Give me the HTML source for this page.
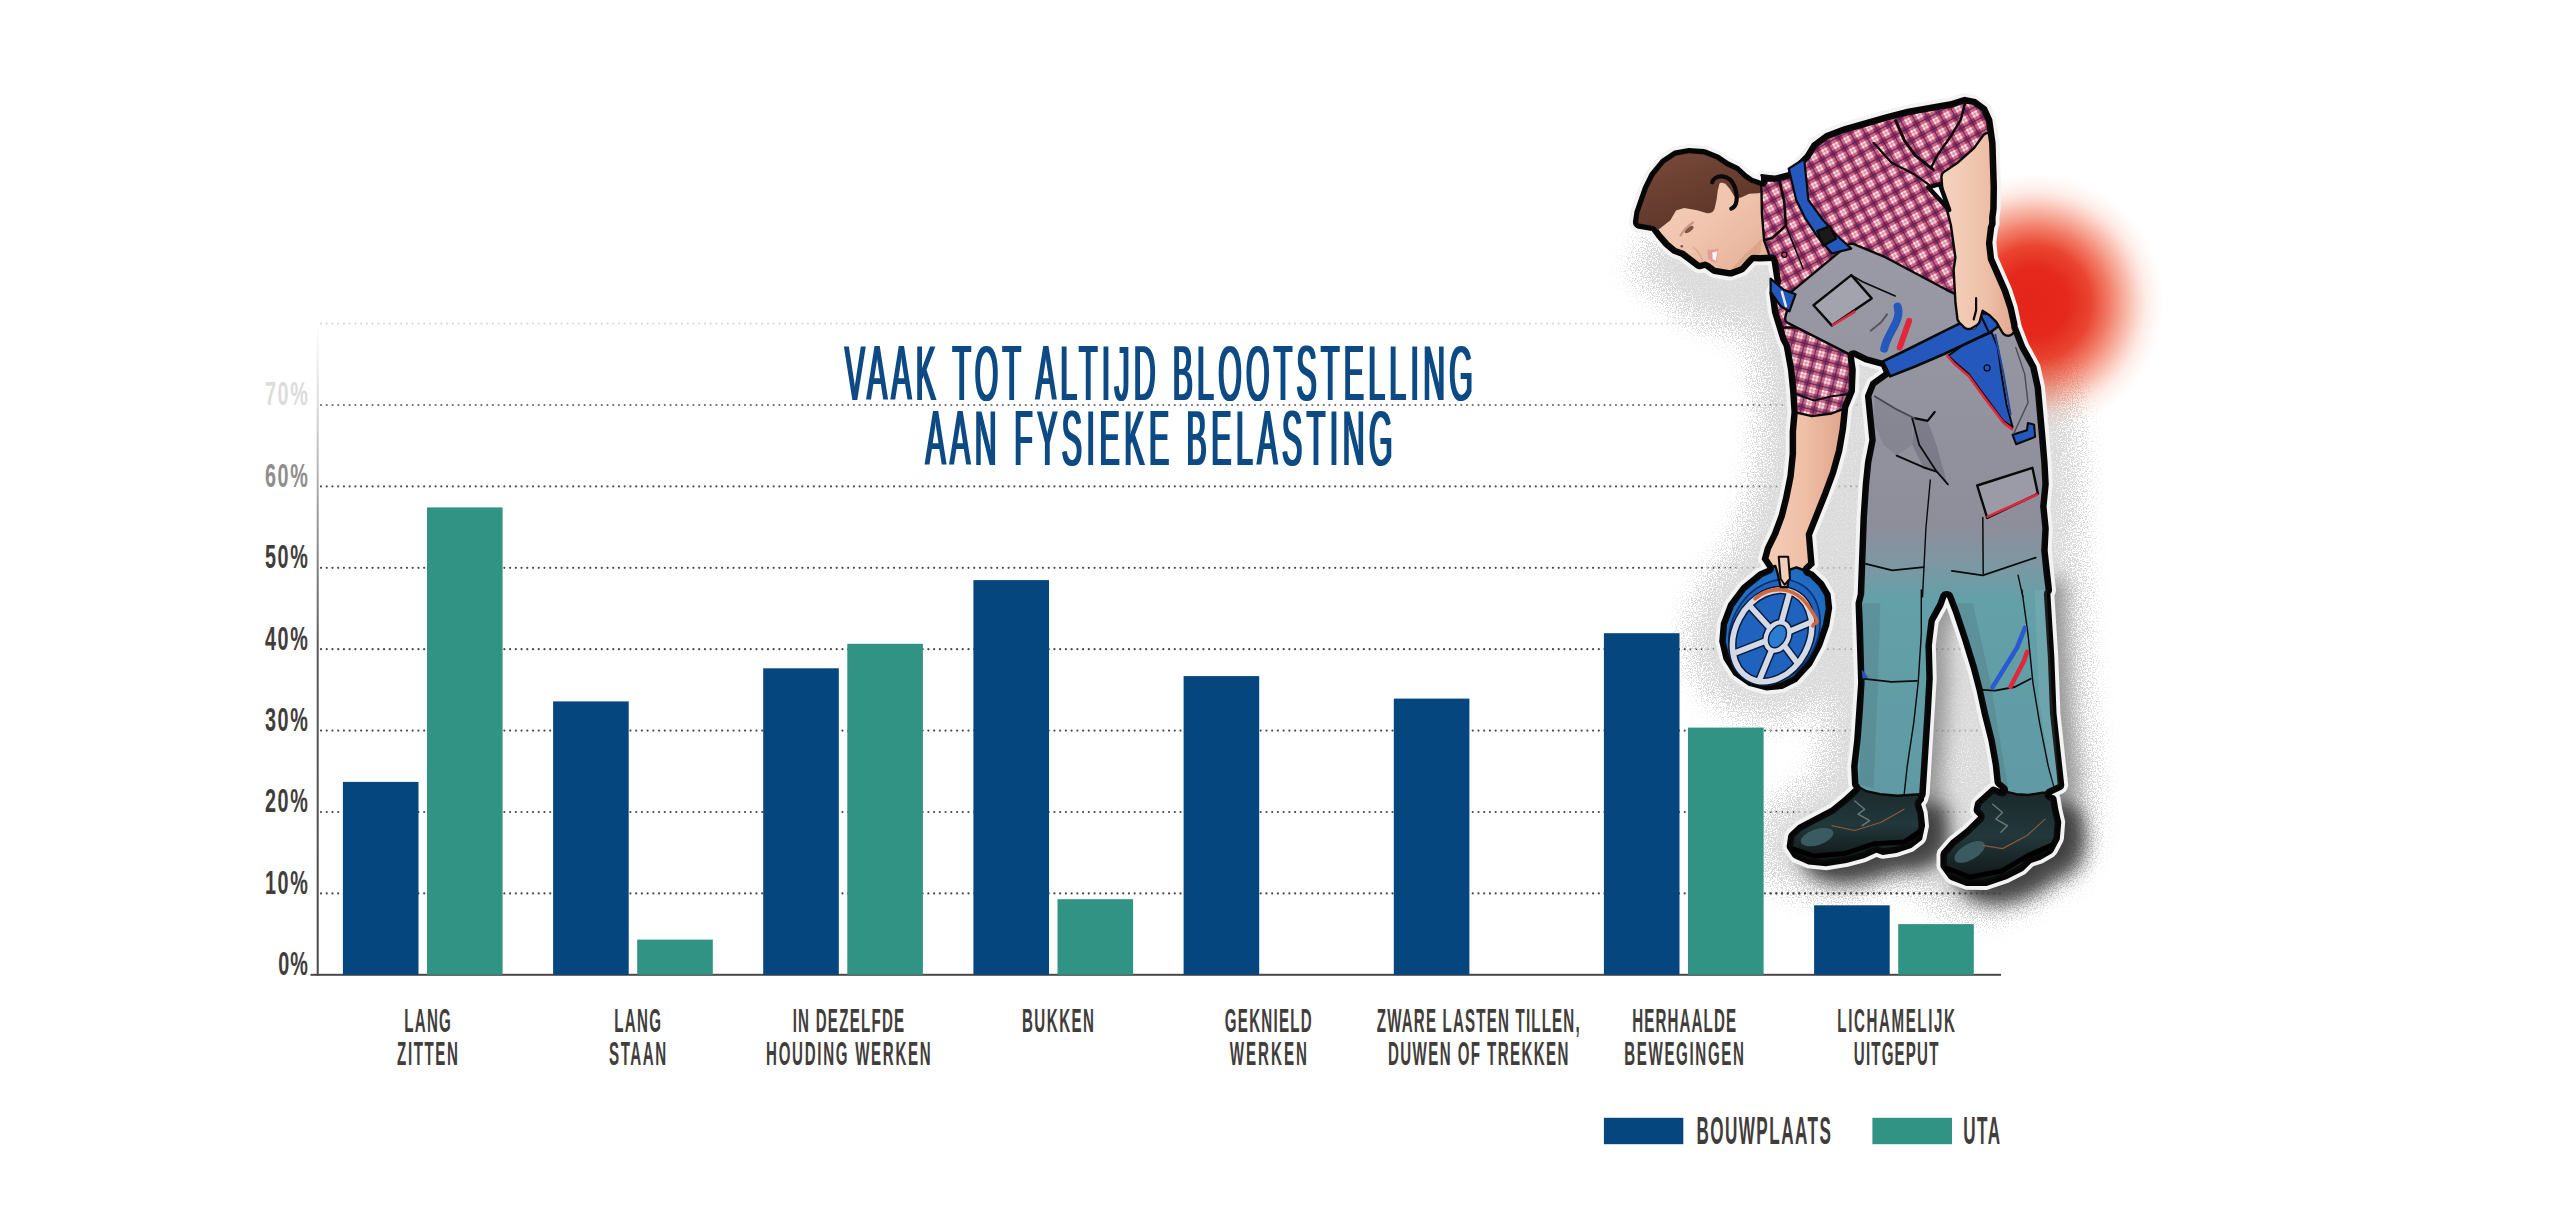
<!DOCTYPE html><html lang="nl"><head><meta charset="utf-8"><title>Vaak tot altijd blootstelling aan fysieke belasting</title>
<style>html,body{margin:0;padding:0;background:#fff}body{width:2560px;height:1224px;overflow:hidden}svg{display:block}text{font-family:"Liberation Sans",sans-serif}.lb{font-weight:700;fill:#413d3b}.ti{font-weight:400;fill:#0a4a83}</style></head><body>
<svg width="2560" height="1224" viewBox="0 0 2560 1224">
<defs>
<linearGradient id="axg" x1="0" y1="0" x2="0" y2="1"><stop offset="0" stop-color="#fff"/><stop offset="0.12" stop-color="#dcdcdc"/><stop offset="0.3" stop-color="#9a9998"/><stop offset="0.5" stop-color="#5a5857"/><stop offset="1" stop-color="#4a4746"/></linearGradient>
<filter id="dx" x="-5%" y="-5%" width="110%" height="110%"><feMorphology operator="dilate" radius="1 0"/></filter>
<linearGradient id="skinf" x1="0" y1="0" x2="1" y2="1"><stop offset="0" stop-color="#f7d6c4"/><stop offset="0.55" stop-color="#f0c4ad"/><stop offset="1" stop-color="#e4ad94"/></linearGradient>
<linearGradient id="hairf" x1="0" y1="0" x2="0.6" y2="1"><stop offset="0" stop-color="#7a4a3a"/><stop offset="1" stop-color="#5a3427"/></linearGradient>
<linearGradient id="skin2" x1="0" y1="0" x2="1" y2="0"><stop offset="0" stop-color="#f3cdb6"/><stop offset="0.5" stop-color="#efbfa6"/><stop offset="1" stop-color="#dfa58c"/></linearGradient>
<linearGradient id="skin3" x1="0" y1="0" x2="1" y2="0"><stop offset="0" stop-color="#f4d3bf"/><stop offset="0.6" stop-color="#efc0a8"/><stop offset="1" stop-color="#e2a890"/></linearGradient>
<linearGradient id="pantsf" gradientUnits="userSpaceOnUse" x1="0" y1="250" x2="0" y2="800"><stop offset="0" stop-color="#9a9aa6"/><stop offset="0.5" stop-color="#8e8e9b"/><stop offset="0.57" stop-color="#7d97a2"/><stop offset="0.63" stop-color="#64a0a8"/><stop offset="1" stop-color="#5f9aa4"/></linearGradient>
<linearGradient id="bootf" x1="0" y1="0" x2="0" y2="1"><stop offset="0" stop-color="#1b2a2c"/><stop offset="0.5" stop-color="#22383b"/><stop offset="1" stop-color="#101616"/></linearGradient>
<radialGradient id="helmf" cx="0.5" cy="0.5" r="0.6"><stop offset="0" stop-color="#2a7fd0"/><stop offset="1" stop-color="#1d66bd"/></radialGradient>
<pattern id="plaid" width="12.5" height="12.5" patternUnits="userSpaceOnUse" patternTransform="rotate(-28)">
<rect width="12.5" height="12.5" fill="#f7ecf1"/>
<rect x="5.6" y="0" width="6.9" height="12.5" fill="#c0234f" opacity="0.62"/>
<rect x="0" y="5.6" width="12.5" height="6.9" fill="#c0234f" opacity="0.62"/>
<rect x="5.6" y="5.6" width="6.9" height="6.9" fill="#a8143f" opacity="0.55"/>
<rect x="8.4" y="0" width="1.3" height="12.5" fill="#2b2d66" opacity="0.9"/>
<rect x="0" y="8.4" width="12.5" height="1.3" fill="#2b2d66" opacity="0.9"/>
<rect x="2.3" y="0" width="1" height="12.5" fill="#c0234f" opacity="0.5"/>
<rect x="0" y="2.3" width="12.5" height="1" fill="#c0234f" opacity="0.5"/>
</pattern>
<pattern id="plaid2" width="12.5" height="12.5" patternUnits="userSpaceOnUse" patternTransform="rotate(14)">
<rect width="12.5" height="12.5" fill="#f7ecf1"/>
<rect x="5.6" y="0" width="6.9" height="12.5" fill="#b82a52" opacity="0.62"/>
<rect x="0" y="5.6" width="12.5" height="6.9" fill="#b82a52" opacity="0.62"/>
<rect x="5.6" y="5.6" width="6.9" height="6.9" fill="#a01a42" opacity="0.55"/>
<rect x="8.4" y="0" width="1.3" height="12.5" fill="#2b2d66" opacity="0.9"/>
<rect x="0" y="8.4" width="12.5" height="1.3" fill="#2b2d66" opacity="0.9"/>
<rect x="2.3" y="0" width="1" height="12.5" fill="#b82a52" opacity="0.5"/>
<rect x="0" y="2.3" width="12.5" height="1" fill="#b82a52" opacity="0.5"/>
</pattern>
<radialGradient id="glow" cx="0.5" cy="0.5" r="0.5"><stop offset="0" stop-color="#e4251a"/><stop offset="0.26" stop-color="#e5281b"/><stop offset="0.44" stop-color="#e8351f" stop-opacity="0.92"/><stop offset="0.58" stop-color="#ec4a2e" stop-opacity="0.72"/><stop offset="0.72" stop-color="#f0603e" stop-opacity="0.44"/><stop offset="0.86" stop-color="#f58a68" stop-opacity="0.16"/><stop offset="1" stop-color="#f9b49c" stop-opacity="0"/></radialGradient>
<filter id="blur9" x="-30%" y="-30%" width="160%" height="160%"><feGaussianBlur stdDeviation="9"/></filter>
<filter id="speck" x="-20%" y="-20%" width="140%" height="140%" color-interpolation-filters="sRGB"><feGaussianBlur stdDeviation="15" result="b"/><feTurbulence type="fractalNoise" baseFrequency="0.8" numOctaves="1" seed="11" result="n"/><feColorMatrix in="n" type="matrix" values="0 0 0 0 0  0 0 0 0 0  0 0 0 0 0  0 0 0 5 -2" result="na"/><feComposite in="b" in2="na" operator="arithmetic" k1="0" k2="1.25" k3="-1" k4="0" result="d"/><feComponentTransfer in="d" result="d2"><feFuncA type="linear" slope="3" intercept="0"/></feComponentTransfer><feFlood flood-color="#d4d4d4" result="f"/><feComposite in="f" in2="d2" operator="in"/></filter>
</defs>

<rect width="2560" height="1224" fill="#fff"/>
<g id="figback">
</g>
<g stroke-width="2.2" stroke-linecap="round" stroke-dasharray="0.01 5.72" fill="none">
<line x1="321" x2="2002" y1="323.6" y2="323.6" stroke="#d9d9d9"/>
<line x1="321" x2="2002" y1="405.0" y2="405.0" stroke="#6f6d6c"/>
<line x1="321" x2="2002" y1="486.4" y2="486.4" stroke="#555352"/>
<line x1="321" x2="2002" y1="567.8" y2="567.8" stroke="#4a4847"/>
<line x1="321" x2="2002" y1="649.2" y2="649.2" stroke="#4a4847"/>
<line x1="321" x2="2002" y1="730.6" y2="730.6" stroke="#4a4847"/>
<line x1="321" x2="2002" y1="812.0" y2="812.0" stroke="#4a4847"/>
<line x1="321" x2="2002" y1="893.4" y2="893.4" stroke="#4a4847"/>
</g>
<g id="figback2">
<g filter="url(#speck)" opacity="0.82"><path d="M1732.3 555.0 L1718.7 566.8 L1703.6 586.8 L1691.3 619.4 L1689.6 644.2 L1694.6 666.3 L1697.9 674.6 L1709.6 692.6 L1716.0 699.4 L1734.8 712.2 L1765.0 720.2 L1786.3 718.4 L1794.8 715.9 L1814.2 705.8 L1827.8 692.1 L1821.5 764.0 L1821.9 776.9 L1814.6 782.8 L1778.5 802.7 L1766.0 814.9 L1760.0 826.2 L1757.1 842.3 L1757.9 854.6 L1761.8 863.9 L1773.4 879.7 L1781.2 885.0 L1800.7 893.2 L1826.0 896.1 L1852.8 892.1 L1879.0 884.3 L1901.1 882.4 L1913.3 878.8 L1926.1 897.7 L1935.9 905.7 L1959.5 914.9 L1986.1 915.8 L1995.6 914.4 L2020.1 905.8 L2037.9 896.6 L2047.2 888.9 L2066.7 879.0 L2075.0 872.1 L2085.7 854.0 L2088.8 845.7 L2090.9 820.0 L2087.8 805.0 L2092.0 796.6 L2093.9 786.8 L2086.2 711.0 L2080.5 599.6 L2081.7 587.8 L2077.4 549.7 L2078.5 528.8 L2076.4 506.4 L2078.5 484.1 L2077.3 459.9 L2070.4 382.4 L2065.2 358.5 L2052.0 332.7 L2043.5 311.1 L2036.2 300.7 L1998.0 271.5 L1985.1 268.1 L1973.4 269.4 L1898.1 230.1 L1856.1 213.9 L1842.9 214.6 L1832.9 218.8 L1773.8 267.4 L1764.1 280.3 L1756.6 307.6 L1752.1 314.3 L1749.3 322.6 L1749.1 331.3 L1754.9 354.3 L1760.5 394.3 L1761.6 411.7 L1759.9 452.0 L1758.0 471.1 L1750.2 506.2 L1736.7 537.9ZM1956.3 778.7 L1958.6 744.4 L1963.6 772.0Z" fill="#000"/><path d="M1635.2 276.4 L1638.9 282.0 L1653.9 284.6 L1666.1 299.9 L1674.7 307.2 L1682.7 310.1 L1698.7 322.3 L1706.9 321.8 L1716.0 327.7 L1734.0 330.2 L1746.2 325.4 L1755.7 314.9 L1773.4 314.7 L1776.9 335.7 L1771.6 346.7 L1774.3 366.7 L1789.1 411.1 L1851.7 410.9 L1851.7 393.9 L1842.9 344.6 L1851.6 312.0 L1900.0 339.9 L1900.0 236.0 L1647.7 236.0 L1636.7 265.3Z" fill="#000"/></g>
<path d="M1874.0 598.0 L1871.8 607.5 L1874.4 686.6 L1870.5 743.5 L1867.4 770.3 L1868.3 788.8 L1870.2 792.1 L1847.1 812.0 L1814.3 829.3 L1805.6 837.4 L1802.9 850.6 L1809.2 861.1 L1824.4 868.2 L1842.0 870.0 L1862.5 866.7 L1880.2 862.1 L1892.4 856.5 L1898.8 858.6 L1912.0 856.8 L1926.8 852.0 L1937.8 843.3 L1940.8 829.6 L1939.4 816.4 L1936.8 808.0 L1939.6 804.3 L1941.4 798.3 L1948.5 682.5 L1947.6 649.4 L1950.6 625.3 L1959.1 609.7 L1962.0 601.3 L1963.3 601.3 L1969.6 617.7 L1987.1 672.6 L2004.7 745.0 L2011.0 787.3 L2017.9 794.2 L2010.5 790.9 L2007.6 791.3 L1992.0 805.4 L1990.0 814.8 L1994.6 820.6 L1982.0 832.9 L1967.1 844.9 L1957.5 855.8 L1957.0 871.4 L1966.9 883.7 L1982.4 889.7 L2002.6 889.7 L2022.5 883.1 L2038.9 874.6 L2047.1 866.6 L2056.7 863.5 L2067.8 856.9 L2075.5 843.2 L2077.0 826.2 L2072.2 801.9 L2070.4 799.7 L2066.6 798.4 L2077.8 793.3 L2080.0 789.2 L2072.2 717.2 L2066.1 598.0 L2067.8 594.1 L2065.9 579.0 L1874.5 579.0Z" fill="#555" opacity="0.5" filter="url(#blur9)"/>
<path d="M1991.5 830.5 L1967.5 851.4 L1957.6 862.7 L1955.8 867.6 L1956.3 883.0 L1965.1 895.5 L1968.5 898.1 L1984.9 904.5 L2007.4 904.7 L2028.7 897.5 L2045.9 888.7 L2053.8 881.0 L2063.0 877.9 L2074.9 870.9 L2084.4 854.3 L2086.0 835.4 L2080.9 810.5 L2076.9 805.4 L2065.9 801.9 L2048.3 804.0 L2037.1 803.3 L2025.6 800.4 L2015.9 796.1 L2010.0 796.5 L1991.3 813.5 L1988.9 824.2ZM1881.3 796.7 L1876.9 795.8 L1872.2 797.3 L1848.4 817.8 L1815.8 835.0 L1806.0 843.9 L1803.7 848.1 L1801.9 861.4 L1810.4 875.3 L1827.1 883.1 L1846.6 885.0 L1868.2 881.5 L1886.0 876.7 L1896.6 871.9 L1903.2 873.6 L1917.8 871.5 L1933.1 866.4 L1944.9 857.4 L1947.0 853.7 L1949.8 839.9 L1948.4 825.6 L1946.4 819.1 L1948.5 815.7 L1948.9 811.5 L1946.2 805.8 L1940.0 803.2 L1917.6 804.8 L1900.9 803.3 L1888.0 800.4Z" fill="#2a2a2a" opacity="0.8" filter="url(#blur9)"/>
<line x1="1770.55" x2="2002" y1="893.4" y2="893.4" stroke="#4a4847" stroke-width="2.2" stroke-linecap="round" stroke-dasharray="0.01 5.72"/>
<ellipse cx="2034" cy="303" rx="130" ry="130" fill="url(#glow)"/>
</g>
<rect x="316.7" y="323" width="2" height="652.8" fill="url(#axg)"/>
<rect x="310.5" y="973.8" width="1690.5" height="2" fill="#4a4746"/>
<rect x="342.9" y="781.9" width="75.6" height="192.9" fill="#04467d"/>
<rect x="427.0" y="507.4" width="75.6" height="467.4" fill="#309384"/>
<rect x="553.1" y="701.4" width="75.6" height="273.4" fill="#04467d"/>
<rect x="637.2" y="939.6" width="75.6" height="35.2" fill="#309384"/>
<rect x="763.2" y="668.3" width="75.6" height="306.5" fill="#04467d"/>
<rect x="847.3" y="643.8" width="75.6" height="331.0" fill="#309384"/>
<rect x="973.4" y="580.1" width="75.6" height="394.7" fill="#04467d"/>
<rect x="1057.5" y="899.2" width="75.6" height="75.6" fill="#309384"/>
<rect x="1183.6" y="676.1" width="75.6" height="298.7" fill="#04467d"/>
<rect x="1393.8" y="698.6" width="75.6" height="276.2" fill="#04467d"/>
<rect x="1603.9" y="633.2" width="75.6" height="341.6" fill="#04467d"/>
<rect x="1688.0" y="727.6" width="75.6" height="247.2" fill="#309384"/>
<rect x="1814.1" y="905.3" width="75.6" height="69.5" fill="#04467d"/>
<rect x="1898.2" y="924.1" width="75.6" height="50.7" fill="#309384"/>
<text class="lb" style="fill:#dcdcdc" transform="translate(264.90,405.30) scale(0.600,1)" font-size="33.0" textLength="71.7" lengthAdjust="spacing">70%</text>
<text class="lb" style="fill:#8f8e8d" transform="translate(264.90,486.70) scale(0.600,1)" font-size="33.0" textLength="71.7" lengthAdjust="spacing">60%</text>
<text class="lb" style="fill:#413d3b" transform="translate(264.90,568.10) scale(0.600,1)" font-size="33.0" textLength="71.7" lengthAdjust="spacing">50%</text>
<text class="lb" style="fill:#413d3b" transform="translate(264.90,649.50) scale(0.600,1)" font-size="33.0" textLength="71.7" lengthAdjust="spacing">40%</text>
<text class="lb" style="fill:#413d3b" transform="translate(264.90,730.90) scale(0.600,1)" font-size="33.0" textLength="71.7" lengthAdjust="spacing">30%</text>
<text class="lb" style="fill:#413d3b" transform="translate(264.90,812.30) scale(0.600,1)" font-size="33.0" textLength="71.7" lengthAdjust="spacing">20%</text>
<text class="lb" style="fill:#413d3b" transform="translate(264.90,893.70) scale(0.600,1)" font-size="33.0" textLength="71.7" lengthAdjust="spacing">10%</text>
<text class="lb" style="fill:#413d3b" transform="translate(278.30,975.10) scale(0.600,1)" font-size="33.0" textLength="49.3" lengthAdjust="spacing">0%</text>
<text class="lb"  transform="translate(404.20,1031.90) scale(0.450,1)" font-size="33.6" textLength="103.6" lengthAdjust="spacing">LANG</text>
<text class="lb"  transform="translate(397.10,1064.90) scale(0.450,1)" font-size="33.6" textLength="135.1" lengthAdjust="spacing">ZITTEN</text>
<text class="lb"  transform="translate(614.30,1031.90) scale(0.450,1)" font-size="33.6" textLength="103.6" lengthAdjust="spacing">LANG</text>
<text class="lb"  transform="translate(609.05,1064.90) scale(0.450,1)" font-size="33.6" textLength="126.9" lengthAdjust="spacing">STAAN</text>
<text class="lb"  transform="translate(792.65,1031.90) scale(0.450,1)" font-size="33.6" textLength="247.8" lengthAdjust="spacing">IN DEZELFDE</text>
<text class="lb"  transform="translate(766.05,1064.90) scale(0.450,1)" font-size="33.6" textLength="366.0" lengthAdjust="spacing">HOUDING WERKEN</text>
<text class="lb"  transform="translate(1021.95,1031.90) scale(0.450,1)" font-size="33.6" textLength="160.2" lengthAdjust="spacing">BUKKEN</text>
<text class="lb"  transform="translate(1224.80,1031.90) scale(0.450,1)" font-size="33.6" textLength="193.3" lengthAdjust="spacing">GEKNIELD</text>
<text class="lb"  transform="translate(1229.70,1064.90) scale(0.450,1)" font-size="33.6" textLength="171.6" lengthAdjust="spacing">WERKEN</text>
<text class="lb"  transform="translate(1376.75,1031.90) scale(0.450,1)" font-size="33.6" textLength="450.9" lengthAdjust="spacing">ZWARE LASTEN TILLEN,</text>
<text class="lb"  transform="translate(1388.00,1064.90) scale(0.450,1)" font-size="33.6" textLength="400.9" lengthAdjust="spacing">DUWEN OF TREKKEN</text>
<text class="lb"  transform="translate(1632.20,1031.90) scale(0.450,1)" font-size="33.6" textLength="230.7" lengthAdjust="spacing">HERHAALDE</text>
<text class="lb"  transform="translate(1624.20,1064.90) scale(0.450,1)" font-size="33.6" textLength="266.2" lengthAdjust="spacing">BEWEGINGEN</text>
<text class="lb"  transform="translate(1837.30,1031.90) scale(0.450,1)" font-size="33.6" textLength="261.3" lengthAdjust="spacing">LICHAMELIJK</text>
<text class="lb"  transform="translate(1853.80,1064.90) scale(0.450,1)" font-size="33.6" textLength="188.0" lengthAdjust="spacing">UITGEPUT</text>
<g filter="url(#dx)"><text class="ti"  transform="translate(844.70,399.60) scale(0.390,1)" font-size="77.5" textLength="1610.5" lengthAdjust="spacing">VAAK TOT ALTIJD BLOOTSTELLING</text></g>
<g filter="url(#dx)"><text class="ti"  transform="translate(925.40,464.70) scale(0.390,1)" font-size="77.5" textLength="1197.9" lengthAdjust="spacing">AAN FYSIEKE BELASTING</text></g>
<rect x="1603.9" y="1117.8" width="79.4" height="26.4" fill="#04467d"/>
<rect x="1872.4" y="1117.8" width="79.6" height="26.4" fill="#309384"/>
<text class="lb"  transform="translate(1696.40,1144.30) scale(0.450,1)" font-size="38.0" textLength="298.7" lengthAdjust="spacing">BOUWPLAATS</text>
<text class="lb"  transform="translate(1963.20,1144.30) scale(0.450,1)" font-size="38.0" textLength="82.2" lengthAdjust="spacing">UTA</text>
<g id="fig">
<path d="M1629.0 221.6 L1629.2 224.4 L1630.0 226.7 L1631.5 229.0 L1633.2 230.7 L1637.2 232.5 L1649.5 234.5 L1653.5 240.0 L1661.1 248.8 L1669.6 256.1 L1672.3 257.7 L1678.8 259.9 L1693.2 271.0 L1696.5 272.8 L1700.0 273.3 L1704.3 272.4 L1709.9 276.5 L1712.7 277.7 L1728.6 280.5 L1731.7 280.5 L1746.0 275.2 L1748.2 273.4 L1755.4 265.2 L1768.1 265.1 L1770.6 281.0 L1765.8 291.0 L1765.4 292.7 L1768.1 313.2 L1776.7 341.5 L1780.1 348.6 L1784.0 370.3 L1786.2 392.1 L1787.5 412.0 L1785.7 431.3 L1785.7 453.3 L1783.6 474.9 L1779.2 496.6 L1774.9 513.9 L1768.4 531.1 L1761.4 545.5 L1757.8 558.4 L1758.2 561.3 L1761.4 566.3 L1756.4 568.6 L1738.7 583.1 L1724.9 601.3 L1717.0 622.1 L1715.3 641.4 L1719.9 661.1 L1730.4 677.4 L1732.2 679.2 L1747.2 689.5 L1764.4 694.2 L1766.8 694.4 L1783.7 692.6 L1798.6 685.1 L1800.6 683.7 L1815.0 667.8 L1825.7 647.9 L1833.0 626.7 L1836.1 607.5 L1834.7 594.0 L1834.0 591.7 L1826.6 579.3 L1816.2 569.1 L1818.1 567.0 L1818.6 564.8 L1816.1 535.8 L1831.6 497.1 L1839.8 474.9 L1846.1 452.3 L1849.9 429.9 L1852.1 408.8 L1858.7 392.5 L1859.7 369.7 L1858.9 363.7 L1864.0 366.1 L1878.4 370.1 L1878.8 370.9 L1869.2 377.7 L1867.3 379.6 L1861.7 392.7 L1861.1 395.5 L1865.3 439.8 L1861.1 461.2 L1858.9 483.5 L1856.6 517.1 L1853.8 593.4 L1851.6 603.0 L1854.2 682.5 L1850.3 739.1 L1847.2 766.0 L1848.1 784.6 L1848.7 787.5 L1841.0 794.6 L1828.8 804.5 L1796.2 821.6 L1786.3 830.8 L1784.5 834.3 L1782.7 846.9 L1783.7 850.3 L1789.5 859.0 L1792.6 861.9 L1807.3 868.3 L1826.5 870.2 L1848.0 866.7 L1865.8 861.9 L1876.6 857.0 L1880.8 858.5 L1883.2 858.8 L1897.5 856.8 L1913.2 851.4 L1923.4 843.8 L1925.3 841.5 L1926.4 838.9 L1929.0 826.3 L1927.6 811.8 L1925.5 804.9 L1927.6 801.8 L1929.6 794.5 L1936.7 678.7 L1935.8 645.6 L1938.6 622.7 L1946.8 607.7 L1958.3 641.3 L1967.1 669.7 L1972.7 691.4 L1978.0 715.7 L1984.6 741.9 L1988.9 765.5 L1990.6 783.1 L1987.7 784.9 L1973.8 797.7 L1972.0 799.9 L1971.2 802.2 L1969.7 810.6 L1970.6 813.8 L1972.6 816.5 L1963.2 825.8 L1948.3 837.7 L1937.7 850.0 L1936.5 854.1 L1936.5 866.0 L1937.2 869.1 L1946.0 881.3 L1949.2 883.6 L1965.9 889.8 L1986.8 889.9 L2008.4 882.8 L2025.4 874.0 L2033.3 866.3 L2042.6 863.2 L2054.1 856.5 L2056.8 853.4 L2063.0 841.7 L2063.9 838.7 L2065.2 821.5 L2062.1 808.4 L2060.4 797.5 L2059.4 795.1 L2063.6 793.1 L2066.0 791.1 L2067.5 788.5 L2068.2 785.0 L2060.4 712.9 L2058.2 655.7 L2054.4 595.4 L2055.6 592.8 L2056.0 589.8 L2051.6 550.3 L2052.7 528.4 L2050.5 506.4 L2052.7 484.1 L2051.5 461.6 L2049.3 435.1 L2044.9 386.3 L2040.1 364.8 L2028.6 343.7 L2021.6 325.8 L2017.5 306.0 L2011.7 288.2 L1997.9 256.8 L1996.3 242.8 L1998.1 228.8 L1999.5 224.6 L1999.5 217.9 L2000.6 209.1 L2000.9 186.5 L1999.5 142.5 L1996.0 118.1 L1989.9 104.8 L1977.6 95.5 L1963.8 92.9 L1950.1 97.3 L1906.1 105.1 L1883.9 110.6 L1841.8 122.8 L1823.4 129.7 L1809.4 140.2 L1802.1 151.9 L1785.7 168.7 L1774.0 171.7 L1760.8 170.9 L1758.2 172.4 L1757.1 175.2 L1754.7 174.4 L1749.4 170.8 L1740.6 162.8 L1730.8 158.2 L1720.5 151.2 L1706.6 145.7 L1688.4 144.0 L1673.1 146.9 L1670.5 148.2 L1658.4 156.4 L1646.5 171.1 L1639.5 185.2 L1630.8 210.0Z" fill="#f3f3f3"/>
<path d="M1632.9 221.8 L1633.1 223.8 L1633.8 225.6 L1635.1 227.1 L1636.7 228.3 L1638.4 228.8 L1651.7 230.9 L1656.5 237.6 L1663.9 246.2 L1672.6 253.5 L1680.6 256.4 L1696.6 268.6 L1698.4 269.2 L1700.4 269.3 L1704.9 268.1 L1712.1 273.3 L1713.9 274.0 L1729.2 276.6 L1732.1 276.5 L1742.6 272.6 L1744.3 271.6 L1753.9 261.2 L1760.1 261.5 L1771.2 261.0 L1771.6 262.0 L1774.6 281.6 L1769.3 292.7 L1772.0 312.7 L1780.4 340.2 L1783.5 346.2 L1783.9 347.8 L1787.9 369.8 L1790.1 391.8 L1791.4 412.0 L1789.6 431.4 L1789.6 453.5 L1787.4 475.5 L1783.0 497.5 L1778.6 515.1 L1772.0 532.7 L1765.0 547.0 L1761.6 559.3 L1767.3 568.1 L1758.7 571.8 L1741.6 585.7 L1728.2 603.5 L1720.8 622.9 L1719.2 641.5 L1723.5 659.5 L1733.6 675.2 L1748.5 685.8 L1766.4 690.5 L1782.4 688.9 L1796.9 681.7 L1811.8 665.6 L1822.0 646.4 L1829.2 625.9 L1832.2 607.9 L1830.6 593.8 L1823.8 582.1 L1813.6 571.9 L1809.4 570.0 L1814.7 565.0 L1812.1 535.2 L1827.9 495.7 L1836.1 473.6 L1842.3 451.5 L1846.1 429.3 L1848.3 407.8 L1854.9 391.8 L1855.8 369.7 L1854.0 356.9 L1864.7 362.2 L1881.3 366.8 L1883.6 372.2 L1870.5 381.8 L1864.9 395.7 L1869.3 440.0 L1865.0 461.8 L1862.7 483.9 L1860.5 517.3 L1857.7 593.9 L1855.5 603.0 L1858.1 682.6 L1854.2 739.5 L1851.1 766.3 L1852.0 784.8 L1852.7 786.8 L1853.8 788.1 L1843.6 797.5 L1831.0 807.8 L1798.2 825.0 L1789.4 833.2 L1788.2 835.5 L1786.6 846.7 L1787.3 848.7 L1792.7 856.9 L1794.7 858.6 L1808.3 864.5 L1826.0 866.3 L1846.6 863.0 L1864.2 858.3 L1876.4 852.8 L1882.8 854.9 L1896.5 853.0 L1911.4 848.0 L1920.8 840.8 L1922.1 839.4 L1925.1 825.6 L1923.7 812.4 L1921.1 804.0 L1923.9 800.4 L1924.2 797.7 L1925.2 796.4 L1925.7 794.3 L1931.0 711.7 L1932.8 678.5 L1931.9 645.4 L1934.8 621.4 L1943.4 605.9 L1946.3 597.6 L1947.1 597.6 L1953.3 613.8 L1962.1 640.2 L1970.8 668.7 L1976.5 690.5 L1981.8 714.8 L1988.4 741.1 L1992.7 765.0 L1994.6 782.9 L1996.0 785.6 L2000.0 789.0 L1994.6 786.7 L1993.2 786.5 L1991.5 787.0 L1975.8 801.2 L1975.0 803.0 L1973.7 809.1 L1973.7 810.9 L1974.6 813.0 L1978.2 816.6 L1965.8 828.7 L1950.9 840.6 L1941.3 851.6 L1940.4 854.3 L1940.4 865.8 L1940.8 867.5 L1948.8 878.5 L1950.8 880.0 L1966.4 886.0 L1986.6 886.0 L2006.6 879.3 L2023.1 870.9 L2031.3 862.9 L2040.9 859.7 L2052.0 853.2 L2053.4 851.6 L2059.8 839.3 L2061.3 822.3 L2058.3 809.1 L2056.4 797.8 L2054.6 795.5 L2051.4 794.4 L2062.0 789.6 L2063.7 787.7 L2064.3 785.2 L2056.5 713.1 L2054.3 655.9 L2050.4 594.1 L2051.7 592.1 L2052.1 590.1 L2047.7 550.4 L2048.8 528.4 L2046.6 506.4 L2048.8 484.1 L2047.6 461.9 L2045.4 435.4 L2041.0 386.9 L2036.4 365.9 L2025.1 345.4 L2017.6 326.3 L2017.5 323.9 L2013.8 307.0 L2008.0 289.4 L1994.1 257.9 L1992.4 242.8 L1994.3 227.8 L1995.6 224.4 L1995.6 217.6 L1996.7 209.0 L1997.0 186.5 L1995.6 142.8 L1992.3 119.2 L1986.7 106.9 L1975.8 99.0 L1964.4 96.7 L1951.1 101.1 L1907.0 108.8 L1884.9 114.4 L1843.0 126.5 L1825.3 133.2 L1811.9 143.2 L1805.2 154.3 L1787.7 172.2 L1774.3 175.7 L1761.4 174.8 L1760.9 175.4 L1761.0 180.7 L1753.0 177.9 L1746.9 173.8 L1738.8 166.2 L1728.9 161.6 L1718.9 154.8 L1705.9 149.6 L1704.0 149.1 L1688.6 147.9 L1674.4 150.6 L1672.7 151.5 L1661.1 159.2 L1649.8 173.1 L1643.0 186.7 L1634.5 211.2Z" fill="#060606"/>
<path d="M1775.8 258.4 L1777.3 255.1 L1776.9 251.9 L1776.0 250.2 L1771.7 244.6 L1768.8 236.8 L1768.7 190.8 L1767.8 188.0 L1764.9 184.7 L1762.9 186.0 L1760.4 186.1 L1750.5 182.6 L1743.6 178.0 L1736.1 170.8 L1726.2 166.2 L1716.1 159.3 L1703.7 154.4 L1689.0 153.2 L1675.5 155.9 L1664.3 163.4 L1654.3 175.9 L1648.0 188.6 L1639.5 212.9 L1638.2 222.4 L1638.5 223.1 L1639.3 223.6 L1652.7 225.6 L1654.9 226.6 L1660.6 234.2 L1667.9 242.6 L1675.6 249.1 L1683.3 251.8 L1699.2 263.9 L1700.0 264.0 L1704.4 262.8 L1706.3 263.0 L1709.7 264.9 L1715.1 268.9 L1730.3 271.4 L1741.0 267.5 L1747.6 260.0 L1750.6 257.0 L1752.2 256.1 L1753.6 255.9 L1760.0 256.2 L1771.9 255.7 L1773.9 256.3 L1775.0 257.3Z" fill="url(#skinf)" stroke="#0a0a0a" stroke-width="2.4" stroke-linejoin="round"/>
<path d="M1657.5 229.8 L1659.6 228.7 L1670.4 220.2 L1676.0 210.6 L1684.2 208.0 L1697.0 210.3 L1707.1 213.2 L1710.2 213.0 L1712.4 211.9 L1714.0 210.0 L1714.7 208.2 L1716.6 199.6 L1717.8 190.2 L1719.5 183.6 L1721.3 182.6 L1725.4 183.7 L1729.9 189.1 L1734.1 195.9 L1736.2 197.4 L1738.7 198.0 L1741.3 197.6 L1749.2 193.7 L1758.2 193.3 L1760.7 192.7 L1762.3 191.7 L1763.8 189.6 L1764.4 187.7 L1764.3 185.3 L1762.4 186.1 L1760.4 186.1 L1750.5 182.6 L1743.6 178.0 L1736.1 170.8 L1726.2 166.2 L1716.4 159.5 L1703.8 154.4 L1688.7 153.2 L1675.9 155.7 L1664.3 163.4 L1654.3 175.9 L1648.0 188.6 L1639.4 213.1 L1638.2 222.0 L1638.6 223.2 L1639.5 223.6 L1653.6 225.9 L1655.3 226.9Z" fill="url(#hairf)"/>
<path d="M1761.9 213.4 L1764.1 240.4 L1769.6 255.8 L1772.4 255.8 L1774.3 256.6 L1775.7 258.1 L1776.8 261.2 L1779.9 281.4 L1779.4 283.8 L1774.8 293.5 L1777.2 311.6 L1785.3 338.2 L1788.6 344.8 L1791.0 357.1 L1848.6 357.1 L1848.8 355.1 L1849.7 353.2 L1849.7 339.9 L1840.9 290.6 L1849.6 258.0 L1906.6 290.9 L1973.0 312.9 L1977.6 268.6 L1987.3 244.6 L1987.1 242.2 L1989.0 227.1 L1990.3 223.5 L1990.3 216.9 L1991.4 208.8 L1991.7 186.3 L1990.3 143.1 L1987.1 120.7 L1982.4 110.3 L1973.6 103.9 L1964.8 102.2 L1952.1 106.3 L1908.1 114.0 L1886.3 119.5 L1864.4 126.1 L1844.7 131.5 L1827.8 137.9 L1815.8 146.8 L1809.4 157.5 L1790.8 176.5 L1789.1 177.3 L1775.1 180.9 L1766.3 180.4 L1766.2 182.6 L1765.3 184.3 L1763.8 185.6 L1761.4 186.2Z" fill="url(#plaid)" stroke="#0a0a0a" stroke-width="2.4" stroke-linejoin="round"/>
<path d="M1811.8 416.8 L1831.8 414.2 L1842.7 409.9 L1843.2 406.3 L1849.6 390.7 L1850.4 369.9 L1848.6 356.1 L1848.9 354.6 L1849.9 353.0 L1851.1 352.1 L1852.9 351.4 L1849.5 327.5 L1782.0 327.4 L1785.3 338.2 L1788.6 344.8 L1793.1 368.9 L1795.4 391.5 L1796.6 413.4Z" fill="url(#plaid2)" stroke="#0a0a0a" stroke-width="2.4" stroke-linejoin="round"/>
<path d="M1882.8 799.8 L1907.4 803.4 L1917.3 800.3 L1919.0 798.4 L1919.2 796.0 L1920.4 794.0 L1925.7 711.3 L1927.5 678.3 L1926.6 645.1 L1929.6 620.7 L1930.2 618.9 L1938.5 603.7 L1941.7 594.8 L1943.3 593.0 L1945.6 592.3 L1947.8 592.3 L1949.8 592.9 L1951.3 594.2 L1952.0 595.5 L1958.3 612.2 L1967.1 638.6 L1975.9 667.1 L1981.6 689.2 L1987.0 713.6 L1993.6 740.1 L1997.9 764.0 L1999.8 781.9 L2005.1 786.4 L2006.4 787.9 L2006.8 789.3 L2006.9 790.8 L2006.5 792.2 L2005.8 793.4 L2013.8 800.1 L2016.0 801.2 L2017.5 801.2 L2040.1 799.0 L2046.0 796.5 L2045.6 795.0 L2045.8 793.1 L2046.4 791.7 L2047.7 790.3 L2058.9 785.2 L2057.6 770.8 L2051.2 713.3 L2049.0 656.2 L2045.1 594.3 L2045.5 592.0 L2046.8 590.3 L2044.6 572.5 L2042.4 550.6 L2043.5 528.5 L2041.3 506.4 L2043.5 484.4 L2042.4 462.4 L2035.7 387.2 L2031.3 367.5 L2020.2 347.3 L2012.5 327.7 L2012.3 325.0 L2011.0 318.8 L1985.4 298.7 L1983.0 298.1 L1980.7 298.6 L1970.3 306.7 L1966.7 300.3 L1964.8 298.6 L1946.5 289.8 L1885.3 257.2 L1853.2 243.9 L1850.8 243.6 L1849.3 243.9 L1848.1 244.7 L1792.2 291.2 L1791.3 293.1 L1785.0 318.6 L1785.7 321.0 L1786.5 322.1 L1787.7 322.9 L1849.1 354.1 L1850.3 352.6 L1851.5 351.8 L1853.4 351.4 L1854.9 351.6 L1866.6 357.3 L1883.8 362.1 L1885.0 363.0 L1885.9 364.2 L1888.8 371.3 L1888.7 373.7 L1887.5 375.8 L1874.7 385.1 L1870.2 396.2 L1874.6 440.0 L1870.2 462.5 L1868.0 484.3 L1865.8 517.5 L1863.0 594.1 L1860.8 603.2 L1861.7 623.1 L1863.4 682.9 L1861.7 711.3 L1859.5 739.9 L1856.4 766.4 L1857.3 784.1 L1858.5 785.4 L1859.1 786.8 L1859.2 788.3 L1858.8 790.1Z" fill="url(#pantsf)" stroke="#0a0a0a" stroke-width="2.4" stroke-linejoin="round"/>
<path d="M1859.2 787.2 L1859.0 789.7 L1857.6 791.8 L1846.9 801.6 L1834.3 811.9 L1801.1 829.4 L1793.4 836.6 L1791.9 846.0 L1797.0 853.8 L1809.9 859.4 L1825.3 861.1 L1845.6 857.8 L1862.8 853.2 L1875.7 847.5 L1877.6 847.6 L1883.1 849.6 L1894.9 848.0 L1908.7 843.4 L1917.4 836.7 L1919.8 825.6 L1918.5 813.5 L1916.0 805.5 L1915.8 803.5 L1916.6 801.1 L1919.0 798.4 L1919.2 796.0 L1920.2 794.2 L1897.6 795.8 L1880.1 794.2 L1866.3 791.2Z" fill="url(#bootf)" stroke="#0a0a0a" stroke-width="2.4" stroke-linejoin="round"/>
<path d="M2045.8 793.0 L2042.8 792.6 L2028.5 795.0 L2016.3 794.2 L2006.7 791.8 L2005.7 793.5 L2004.6 794.5 L2003.2 795.1 L2001.8 795.2 L1999.9 794.8 L1993.6 791.9 L1980.1 804.3 L1978.9 809.8 L1982.5 813.4 L1983.4 815.1 L1983.5 817.6 L1982.4 819.8 L1969.5 832.5 L1954.6 844.5 L1945.7 854.6 L1945.7 865.6 L1952.9 875.1 L1967.4 880.8 L1986.0 880.8 L2004.3 874.5 L2020.2 866.4 L2028.7 858.2 L2038.7 854.9 L2048.8 849.0 L2054.7 837.7 L2056.0 822.4 L2053.1 810.4 L2051.5 799.9 L2048.7 799.1 L2047.1 798.0 L2046.2 796.9 L2045.7 795.5Z" fill="url(#bootf)" stroke="#0a0a0a" stroke-width="2.4" stroke-linejoin="round"/>
<path d="M1788.5 564.8 L1772.4 566.2 L1772.8 567.7 L1772.6 569.6 L1772.0 570.9 L1771.0 572.0 L1761.6 576.2 L1745.2 589.6 L1732.8 606.2 L1725.9 624.2 L1724.5 641.6 L1728.5 657.5 L1737.8 671.9 L1750.8 681.0 L1766.4 685.2 L1780.9 683.8 L1794.1 677.1 L1807.5 662.4 L1817.2 644.3 L1824.1 624.5 L1826.9 608.2 L1825.6 595.5 L1819.4 585.1 L1810.4 576.2 L1806.4 574.5 L1804.9 573.2 L1803.9 570.9 L1803.9 569.4 L1804.3 568.1 L1802.7 567.5Z" fill="url(#helmf)" stroke="#0a0a0a" stroke-width="2.4" stroke-linejoin="round"/>
<path d="M1788.7 168.6 L1804.2 158.7 L1808.4 200.0 L1821.7 218.4 L1836.0 234.7 L1851.3 248.6 L1831.9 253.5 L1817.6 236.8 L1805.3 218.4 L1796.2 200.0Z" fill="#2458bd" stroke="#0a0a0a" stroke-width="2.2" stroke-linejoin="round" />
<path d="M1817.2 231.0 L1829.9 226.1 L1836.0 238.8 L1823.3 245.7Z" fill="#1a1a1a" stroke="#0a0a0a" stroke-width="2.2" stroke-linejoin="round" />
<path d="M1770.6 278.6 L1783.9 289.9 L1795.5 294.3 L1789.4 311.3 L1780.8 306.2 L1770.6 291.9Z" fill="#2458bd" stroke="#0a0a0a" stroke-width="2.2" stroke-linejoin="round" />
<path d="M1781.9 291.9 L1785.9 306.2" fill="none" stroke="#dfe8f8" stroke-width="2.5" stroke-linejoin="round" stroke-linecap="round" />
<path d="M1813.5 305.2 L1851.3 275.1 L1871.7 298.4 L1831.9 325.6Z" fill="#a3a3ae" stroke="#0a0a0a" stroke-width="2.4" stroke-linejoin="round" />
<path d="M1832.9 325.0 L1854.4 311.9" fill="none" stroke="#e0283c" stroke-width="2.5" stroke-linejoin="round" stroke-linecap="round" />
<path d="M1851.3 275.1 L1862.5 281.7 L1895.2 296.0" fill="none" stroke="#0a0a0a" stroke-width="1.6" stroke-linejoin="round" stroke-linecap="round" />
<path d="M1897.6 306.6 C1902.3 320.5 1887.4 332.7 1884.2 348.7" fill="none" stroke="#2458bd" stroke-width="8" stroke-linecap="round"/>
<path d="M1909.1 320.9 L1899.7 347.4" fill="none" stroke="#e0283c" stroke-width="6" stroke-linejoin="round" stroke-linecap="round" />
<path d="M1870.7 330.7 L1880.9 322.5 L1887.0 314.4" fill="none" stroke="#55555f" stroke-width="2" stroke-linejoin="round" stroke-linecap="round" />
<path d="M1948.3 355.6 L1964.6 344.0 L1991.6 332.3 L1997.7 347.0 L2001.4 373.6 L2006.5 404.2 L2012.6 427.1 L2003.4 421.0 L1985.0 396.4 L1968.7 374.0 L1954.4 361.7Z" fill="#2458bd" stroke="#0a0a0a" stroke-width="2" stroke-linejoin="round" />
<path d="M1947.5 356.0 L1954.0 363.4 L1968.7 376.0 L1985.0 398.5 L2003.4 422.6 L2012.0 429.1" fill="none" stroke="#e0283c" stroke-width="2.6" stroke-linejoin="round" stroke-linecap="round" />
<path d="M1995.3 334.8 L2003.4 373.6 L2010.6 414.4" fill="none" stroke="#1b469c" stroke-width="2" stroke-linejoin="round" stroke-linecap="round" />
<circle cx="1987.1" cy="367.9" r="3" fill="#2458bd" stroke="#0a0a0a" stroke-width="1.2"/>
<path d="M1882.9 361.3 L1903.4 351.5 L1944.2 331.1 L1981.0 313.1 L1997.7 314.4 L2002.4 322.9 L1991.6 331.5 L1944.2 354.0 L1915.6 366.2 L1890.1 376.4Z" fill="#2458bd" stroke="#0a0a0a" stroke-width="2.6" stroke-linejoin="round" />
<path d="M1979.9 313.5 L1988.1 330.7" fill="none" stroke="#0a0a0a" stroke-width="2" stroke-linejoin="round" stroke-linecap="round" />
<circle cx="1973.8" cy="326.6" r="2.6" fill="#e8e8ee" stroke="#0a0a0a" stroke-width="1"/>
<path d="M2012.6 434.8 L2026.9 430.3 L2027.9 423.0 L2034.1 424.6 L2035.1 436.9 L2016.1 444.2Z" fill="#2458bd" stroke="#0a0a0a" stroke-width="2" stroke-linejoin="round" />
<path d="M1761.6 175.4 L1778.8 177.6 L1784.3 202.3 L1785.9 225.5 L1772.2 238.1 L1764.5 240.3" fill="none" stroke="#0a0a0a" stroke-width="2.6" stroke-linejoin="round" stroke-linecap="round" />
<path d="M1785.9 225.5 L1794.2 246.4 L1803.1 268.5" fill="none" stroke="#0a0a0a" stroke-width="1.6" stroke-linejoin="round" stroke-linecap="round" />
<path d="M1895.7 120.7 L1904.5 140.6 L1915.5 155.6 L1933.2 169.7" fill="none" stroke="#0a0a0a" stroke-width="3" stroke-linejoin="round" stroke-linecap="round" />
<path d="M1965.2 102.4 L1960.8 119.6 L1950.8 136.2 L1937.6 154.9 L1931.4 167.0" fill="none" stroke="#0a0a0a" stroke-width="2.4" stroke-linejoin="round" stroke-linecap="round" />
<path d="M1873.6 142.8 L1891.3 162.6 L1913.3 173.7 L1928.8 184.7" fill="none" stroke="#0a0a0a" stroke-width="2.2" stroke-linejoin="round" stroke-linecap="round" />
<circle cx="1784.3" cy="254.8" r="2.6" fill="#c23a62" stroke="#0a0a0a" stroke-width="1.2"/>
<path d="M1796.4 394.0 L1814.1 400.6 L1831.7 396.2 L1849.4 394.0" fill="none" stroke="#0a0a0a" stroke-width="2" stroke-linejoin="round" stroke-linecap="round" />
<path d="M1712.2 182.3 C1714.4 174.3 1729.1 173.1 1734.6 186.6 C1738.3 197.6 1737.1 206.2 1731.3 208.6" fill="none" stroke="#0a0a0a" stroke-width="4.2" stroke-linecap="round"/>
<ellipse cx="1689.2" cy="229.6" rx="5.2" ry="2.1" fill="#5e3a2c" opacity="0.8" transform="rotate(-38 1689.2 229.6)"/>
<path d="M1680.5 235.5 Q1685 228 1693 222.5" fill="none" stroke="#a8705a" stroke-width="2.2" opacity="0.55" stroke-linecap="round"/>
<circle cx="1681.8" cy="246.3" r="1.3" fill="#5e3a2c" opacity="0.8"/>
<path d="M1707.5 249.5 Q1713 250.5 1718.5 248.5 L1716.5 262 Q1711 262.5 1708 258 Z" fill="#e59c96"/>
<path d="M1712.2 252.5 L1717.4 251.2 L1715.8 260.8 L1712.8 259.2 Z" fill="#fdf8f4"/>
<path d="M1731.6 269.2 L1740.8 265.7 L1746.5 258.6 L1751.4 253.7 L1760.4 253.9 L1762.2 238.0 L1754.9 245.4 L1745.1 253.9Z" fill="#dda58c" stroke="none" stroke-width="0" stroke-linejoin="round" />
<path d="M1693 247 Q1700 252 1703 262" fill="none" stroke="#e0a48e" stroke-width="2" opacity="0.7"/>
<path d="M1977.2 485.5 L2032.4 467.8 L2037.9 493.7 L1987.2 517.9Z" fill="#9b9ba8" stroke="#0a0a0a" stroke-width="2.4" stroke-linejoin="round" />
<path d="M1987.6 516.6 L2037.0 494.5" fill="none" stroke="#e0283c" stroke-width="2.6" stroke-linejoin="round" stroke-linecap="round" />
<path d="M1982.8 517.5 L1983.2 573.7" fill="none" stroke="#0a0a0a" stroke-width="1.5" stroke-linejoin="round" stroke-linecap="round" />
<path d="M1865.9 563.8 L1892.3 570.4 L1923.7 567.1" fill="none" stroke="#0a0a0a" stroke-width="1.8" stroke-linejoin="round" stroke-linecap="round" />
<path d="M1951.9 570.8 L1982.8 575.3 L2035.7 557.6" fill="none" stroke="#0a0a0a" stroke-width="1.8" stroke-linejoin="round" stroke-linecap="round" />
<path d="M1930.3 480.0 L1925.9 528.5 L1922.5 596.9" fill="none" stroke="#0a0a0a" stroke-width="1.4" stroke-linejoin="round" stroke-linecap="round" />
<path d="M2018.1 575.3 L2022.9 596.9" fill="none" stroke="#0a0a0a" stroke-width="1.4" stroke-linejoin="round" stroke-linecap="round" />
<path d="M1914.4 418.2 L1927.6 420.9 L1934.7 412.0" fill="none" stroke="#0a0a0a" stroke-width="2.2" stroke-linejoin="round" stroke-linecap="round" />
<path d="M1912.2 418.2 L1919.2 444.7 L1936.4 471.2 L1947.9 484.4" fill="none" stroke="#0a0a0a" stroke-width="1.8" stroke-linejoin="round" stroke-linecap="round" />
<path d="M1896.7 455.7 L1923.2 467.2 L1936.4 471.6" fill="none" stroke="#0a0a0a" stroke-width="2" stroke-linejoin="round" stroke-linecap="round" />
<path d="M1874.7 396.2 L1896.7 409.4 L1914.4 418.2" fill="none" stroke="#4a4a55" stroke-width="1.8" stroke-linejoin="round" stroke-linecap="round" />
<path d="M2015.8 347.6 L2024.7 374.1 L2028.0 402.8 L2013.6 433.7" fill="none" stroke="#4a4a55" stroke-width="1.4" stroke-linejoin="round" stroke-linecap="round" />
<path d="M1862.6 678.7 L1891.3 681.8 L1916.9 680.9" fill="none" stroke="#0a0a0a" stroke-width="1.8" stroke-linejoin="round" stroke-linecap="round" />
<path d="M1921.3 590.0 L1921.3 634.1 L1918.2 682.6 L1913.8 722.3 L1907.2 766.4 L1904.1 795.1" fill="none" stroke="#0a0a0a" stroke-width="1.4" stroke-linejoin="round" stroke-linecap="round" />
<path d="M1979.1 689.7 L1994.9 690.6 L2014.8 687.0 L2030.7 678.7" fill="none" stroke="#0a0a0a" stroke-width="1.8" stroke-linejoin="round" stroke-linecap="round" />
<path d="M2021.9 590.0 L2028.0 634.1 L2032.9 682.6 L2039.5 722.3 L2048.3 766.4 L2053.6 785.9" fill="none" stroke="#0a0a0a" stroke-width="1.4" stroke-linejoin="round" stroke-linecap="round" />
<path d="M1992.7 687.0 L2017.0 647.8 L2024.9 627.9" fill="none" stroke="#2a5ad0" stroke-width="4.5" stroke-linejoin="round" stroke-linecap="round" />
<path d="M2010.4 687.0 L2024.1 660.6 L2027.1 651.8" fill="none" stroke="#e0283c" stroke-width="4.5" stroke-linejoin="round" stroke-linecap="round" />
<path d="M1861.7 669.4 L1868.3 677.3 L1862.6 678.7Z" fill="#2a5ad0" stroke="none" stroke-width="0" stroke-linejoin="round" />
<g transform="rotate(28 1773.5 633.2)">
<ellipse cx="1773.5" cy="631.2" rx="43" ry="54" fill="#1f63bf" stroke="#0c2f6e" stroke-width="1.6"/>
<ellipse cx="1773.5" cy="636.2" rx="37" ry="48" fill="none" stroke="#0b1c3c" stroke-width="8.5"/>
<line x1="1778.5" y1="634.2" x2="1809.3" y2="648.7" stroke="#0b1c3c" stroke-width="8.5"/>
<line x1="1778.5" y1="634.2" x2="1783.1" y2="682.6" stroke="#0b1c3c" stroke-width="8.5"/>
<line x1="1778.5" y1="634.2" x2="1747.4" y2="670.2" stroke="#0b1c3c" stroke-width="8.5"/>
<line x1="1778.5" y1="634.2" x2="1738.8" y2="619.8" stroke="#0b1c3c" stroke-width="8.5"/>
<line x1="1778.5" y1="634.2" x2="1768.4" y2="588.7" stroke="#0b1c3c" stroke-width="8.5"/>
<line x1="1778.5" y1="634.2" x2="1801.9" y2="605.4" stroke="#0b1c3c" stroke-width="8.5"/>
<ellipse cx="1778.5" cy="634.2" rx="10" ry="14" fill="none" stroke="#0b1c3c" stroke-width="9.0"/>
<ellipse cx="1773.5" cy="636.2" rx="37" ry="48" fill="none" stroke="#d3dae6" stroke-width="5.5"/>
<line x1="1778.5" y1="634.2" x2="1809.3" y2="648.7" stroke="#d3dae6" stroke-width="5.5"/>
<line x1="1778.5" y1="634.2" x2="1783.1" y2="682.6" stroke="#d3dae6" stroke-width="5.5"/>
<line x1="1778.5" y1="634.2" x2="1747.4" y2="670.2" stroke="#d3dae6" stroke-width="5.5"/>
<line x1="1778.5" y1="634.2" x2="1738.8" y2="619.8" stroke="#d3dae6" stroke-width="5.5"/>
<line x1="1778.5" y1="634.2" x2="1768.4" y2="588.7" stroke="#d3dae6" stroke-width="5.5"/>
<line x1="1778.5" y1="634.2" x2="1801.9" y2="605.4" stroke="#d3dae6" stroke-width="5.5"/>
<ellipse cx="1778.5" cy="634.2" rx="10" ry="14" fill="none" stroke="#d3dae6" stroke-width="6.0"/>
<ellipse cx="1778.5" cy="634.2" rx="8" ry="12" fill="#2b7bd0" stroke="#0b1c3c" stroke-width="1.4"/>
</g>
<path d="M1755.1 598.7 C1769.1 586.2 1794.1 584.7 1808.8 606.8 S1814.0 620.0 1812.9 625.9" fill="none" stroke="#d2673c" stroke-width="3.6" stroke-linecap="round"/>
<ellipse cx="1817.1" cy="837.1" rx="17" ry="8" fill="#3f6468" opacity="0.85" transform="rotate(-18 1817.1 837.1)"/>
<ellipse cx="1969.7" cy="851.9" rx="17" ry="8" fill="#3f6468" opacity="0.85" transform="rotate(-30 1969.7 851.9)"/>
<path d="M1794.1 849.4 L1813.8 856.0 L1845.0 853.5 L1874.5 843.7 L1904.1 842.0 L1918.8 832.2" fill="none" stroke="#000" stroke-width="5" stroke-linejoin="round" stroke-linecap="round" />
<path d="M1947.1 868.3 L1969.7 877.3 L2002.5 870.7 L2028.8 855.2 L2051.7 845.3" fill="none" stroke="#000" stroke-width="5" stroke-linejoin="round" stroke-linecap="round" />
<path d="M1831.9 825.6 L1854.8 830.5 L1881.1 822.3 L1904.1 809.2" fill="none" stroke="#8a5a3a" stroke-width="1.2" stroke-linejoin="round" stroke-linecap="round" />
<path d="M1982.8 845.3 L2002.5 848.6 L2027.1 835.5 L2045.2 819.1" fill="none" stroke="#8a5a3a" stroke-width="1.2" stroke-linejoin="round" stroke-linecap="round" />
<path d="M1914.4 418.2 L1927.6 420.9 L1936.4 444.7 L1947.5 484.4 L1936.4 471.6 L1923.2 467.2 L1912.2 444.7Z" fill="#1a1a2a" opacity="0.18"/>
<path d="M1874.7 396.2 L1896.7 409.4 L1912.2 418.2 L1912.2 444.7 L1896.7 455.7 L1883.5 444.7 L1873.6 422.6Z" fill="#1a1a2a" opacity="0.1"/>
<path d="M1862.6 603.2 L1880.3 603.2 L1878.1 678.2 L1873.6 788.5 L1859.3 784.1 L1862.6 682.6Z" fill="#1a1a2a" opacity="0.1"/>
<path d="M1955.2 603.2 L1972.9 603.2 L1990.5 682.6 L2008.2 788.5 L2000.5 784.1 L1981.7 689.3Z" fill="#1a1a2a" opacity="0.1"/>
<path d="M2034.6 590.0 L2046.8 590.0 L2051.2 682.6 L2058.9 784.1 L2052.3 786.3 L2039.1 700.3Z" fill="#ffffff" opacity="0.08"/>
<path d="M1854.8 801.0 L1864.7 809.2 L1858.1 814.1 L1869.6 820.7 L1862.2 825.6" fill="none" stroke="#6a7a7a" stroke-width="1.4" stroke-linejoin="round" stroke-linecap="round" />
<path d="M1992.7 804.3 L2002.5 812.5 L1995.9 819.1 L2007.4 825.6 L2000.9 832.2" fill="none" stroke="#6a7a7a" stroke-width="1.4" stroke-linejoin="round" stroke-linecap="round" />
<path d="M1775.3 566.0 L1777.4 572.7 L1780.7 587.1 L1787.2 587.3 L1787.5 587.0 L1789.7 569.6 L1796.4 567.5 L1803.8 570.0 L1804.1 568.4 L1804.8 567.1 L1809.3 563.0 L1806.9 534.2 L1823.0 493.8 L1831.1 471.9 L1837.1 450.3 L1840.8 428.6 L1842.8 409.1 L1831.6 413.5 L1811.9 416.1 L1796.6 412.7 L1794.9 431.7 L1794.9 454.0 L1792.6 476.5 L1788.2 498.5 L1783.6 516.9 L1777.0 534.5 L1769.9 548.9 L1767.3 558.5 L1771.9 565.4 L1772.6 567.0Z" fill="url(#skin2)" stroke="#0a0a0a" stroke-width="2.4" stroke-linejoin="round"/>
<path d="M1943.8 171.9 L1942.2 173.8 L1941.4 176.9 L1942.8 195.1 L1947.2 210.6 L1950.9 225.2 L1955.4 257.6 L1953.6 269.5 L1955.5 303.2 L1957.4 318.7 L1957.9 320.5 L1959.3 322.5 L1964.9 328.0 L1967.8 329.1 L1970.8 328.7 L1977.2 325.1 L1978.8 323.3 L1979.6 321.7 L1982.6 310.7 L1989.8 315.5 L1996.2 321.9 L2002.4 332.5 L2003.6 334.0 L2005.2 335.1 L2007.0 335.6 L2009.0 335.7 L2010.8 335.1 L2012.4 334.1 L2014.1 332.0 L2012.5 327.7 L2012.3 325.0 L2008.6 308.3 L2002.8 290.9 L1989.0 259.5 L1987.1 243.3 L1989.0 227.1 L1990.3 223.5 L1990.3 216.9 L1991.4 208.8 L1991.7 186.5 L1990.3 143.1 L1988.8 132.9 L1986.0 133.3 L1983.8 134.6 L1974.0 148.1 L1958.0 162.4Z" fill="url(#skin3)" stroke="#0a0a0a" stroke-width="2.4" stroke-linejoin="round"/>
<path d="M1928.2 187.3 L1939.8 184.1 L1949.2 209.9Z" fill="#ffffff" stroke="#0a0a0a" stroke-width="4.5" stroke-linejoin="round" />
<path d="M1976.1 298.2 L1976.1 310.4 L1973.7 319.4" fill="none" stroke="#0a0a0a" stroke-width="2.2" stroke-linejoin="round" stroke-linecap="round" />
<path d="M1778.7 556.8 L1788.2 556.8 L1790.0 578.8 L1784.6 584.7 L1780.6 578.8Z" fill="#f3cdb6" stroke="#0a0a0a" stroke-width="2" stroke-linejoin="round" />
</g>
</svg></body></html>
